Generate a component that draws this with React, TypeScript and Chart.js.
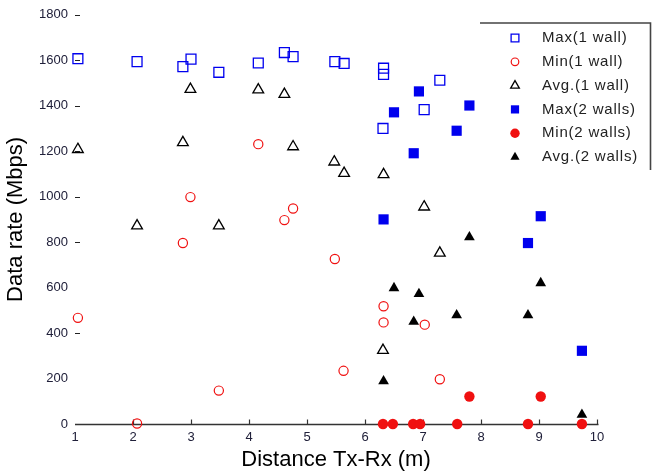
import { useEffect, useRef } from "react";
import { Chart, registerables } from "chart.js";
import { drawPoint } from "chart.js/helpers";

Chart.register(...registerables);

// Axis ranges and tick spacing
const xMin = 1;
const xMax = 10;
const xStep = 1;
const yMin = 0;
const yMax = 1800;
const yStep = 200;
// y ticks that carry a short inward dash
const yDashTicks = [1800, 1600, 1400, 1200, 1000, 800, 400];

// Max data rate, one wall (m, Mbps)
const max1X = [1.05, 2.07, 2.86, 3.0, 3.48, 4.16, 4.61, 4.76, 5.48, 5.64, 6.32, 6.32, 6.31, 7.02, 7.29];
const max1Y = [1607, 1594, 1572, 1605, 1547, 1588, 1634, 1616, 1594, 1586, 1565, 1538, 1300, 1383, 1512];

// Min data rate, one wall
const min1X = [1.05, 2.07, 2.86, 2.99, 3.48, 4.16, 4.61, 4.76, 5.48, 5.63, 6.32, 6.32, 7.03, 7.29];
const min1Y = [467, 2, 796, 998, 147, 1231, 897, 948, 726, 234, 518, 447, 437, 197];

// Average data rate, one wall
const avg1X = [1.05, 2.07, 2.86, 2.99, 3.48, 4.16, 4.61, 4.76, 5.47, 5.64, 6.32, 6.31, 7.02, 7.29];
const avg1Y = [1208, 872, 1238, 1472, 872, 1470, 1450, 1220, 1153, 1103, 1097, 324, 955, 752];

// Max data rate, two walls
const max2X = [6.32, 6.5, 6.84, 6.93, 7.58, 7.8, 8.81, 9.03, 9.74];
const max2Y = [900, 1371, 1191, 1463, 1290, 1401, 796, 914, 322];

// Min data rate, two walls
const min2X = [6.31, 6.48, 6.83, 6.95, 7.59, 7.8, 8.81, 9.03, 9.74];
const min2Y = [0, 0, 0, 0, 0, 121, 0, 121, 0];

// Average data rate, two walls
const avg2X = [6.32, 6.5, 6.84, 6.93, 7.58, 7.8, 8.81, 9.03, 9.74];
const avg2Y = [188, 598, 450, 572, 479, 822, 479, 620, 41];

const seriesLabels = [
  "Max(1 wall)",
  "Min(1 wall)",
  "Avg.(1 wall)",
  "Max(2 walls)",
  "Min(2 walls)",
  "Avg.(2 walls)",
];

const BLUE = "#0000ee";
const RED = "#f01010";
const BLACK = "#000000";
const TICK_COLOR = "#20203a";
const FONT_FAMILY = "Arial, 'Liberation Sans', sans-serif";

const toPoints = (xs: number[], ys: number[]) => xs.map((x, i) => ({ x, y: ys[i] }));

type MarkerStyle = {
  pointStyle: string;
  radius: number;
  legendRadius: number;
  fill: string;
  stroke: string;
  borderWidth: number;
};

const markers: MarkerStyle[] = [
  { pointStyle: "rect", radius: 7, legendRadius: 5.5, fill: "rgba(0,0,0,0)", stroke: BLUE, borderWidth: 1.3 },
  { pointStyle: "circle", radius: 4.6, legendRadius: 3.8, fill: "rgba(0,0,0,0)", stroke: RED, borderWidth: 1.2 },
  { pointStyle: "triangle", radius: 6.2, legendRadius: 5, fill: "rgba(0,0,0,0)", stroke: BLACK, borderWidth: 1.3 },
  { pointStyle: "rect", radius: 7.2, legendRadius: 5.8, fill: BLUE, stroke: BLUE, borderWidth: 0 },
  { pointStyle: "circle", radius: 5.2, legendRadius: 4.7, fill: RED, stroke: RED, borderWidth: 0 },
  { pointStyle: "triangle", radius: 6.2, legendRadius: 5.3, fill: BLACK, stroke: BLACK, borderWidth: 0 },
];

const seriesData = [
  toPoints(max1X, max1Y),
  toPoints(min1X, min1Y),
  toPoints(avg1X, avg1Y),
  toPoints(max2X, max2Y),
  toPoints(min2X, min2Y),
  toPoints(avg2X, avg2Y),
];

// Bottom axis line with inward ticks, and short dashes beside the y labels
const axisMarksPlugin = {
  id: "axisMarks",
  beforeDatasetsDraw(chart: any) {
    const { ctx } = chart;
    const x = chart.scales.x;
    const y = chart.scales.y;
    const y0 = Math.round(y.getPixelForValue(yMin)) + 0.5;
    ctx.save();
    ctx.strokeStyle = "#333333";
    ctx.lineWidth = 1.6;
    ctx.beginPath();
    ctx.moveTo(x.getPixelForValue(xMin), y0);
    ctx.lineTo(x.getPixelForValue(xMax) + 1.5, y0);
    ctx.stroke();
    ctx.lineWidth = 1.2;
    for (let v = xMin + xStep; v <= xMax; v += xStep) {
      const px = Math.round(x.getPixelForValue(v)) + 0.5;
      ctx.beginPath();
      ctx.moveTo(px, y0);
      ctx.lineTo(px, y0 - 5);
      ctx.stroke();
    }
    ctx.strokeStyle = "#222222";
    ctx.lineWidth = 1;
    const left = chart.chartArea.left;
    for (const v of yDashTicks) {
      const py = Math.round(y.getPixelForValue(v)) + 0.5;
      ctx.beginPath();
      ctx.moveTo(left, py);
      ctx.lineTo(left + 5, py);
      ctx.stroke();
    }
    ctx.restore();
  },
};

// Legend box in the upper right corner
const legendPlugin = {
  id: "cornerLegend",
  afterDraw(chart: any) {
    const { ctx } = chart;
    ctx.save();
    ctx.strokeStyle = "#444444";
    ctx.lineWidth = 1.6;
    ctx.beginPath();
    ctx.moveTo(480, 23);
    ctx.lineTo(650.5, 23);
    ctx.lineTo(650.5, 170);
    ctx.stroke();

    const markerX = 515;
    const textX = 542;
    const rowTop = 38;
    const rowGap = 23.8;
    ctx.font = `15px ${FONT_FAMILY}`;
    (ctx as any).letterSpacing = "0.8px";
    ctx.textBaseline = "middle";
    ctx.textAlign = "left";
    seriesLabels.forEach((label, i) => {
      const m = markers[i];
      const cy = rowTop + i * rowGap;
      ctx.fillStyle = m.fill;
      ctx.strokeStyle = m.stroke;
      ctx.lineWidth = m.borderWidth;
      drawPoint(ctx, { pointStyle: m.pointStyle as any, rotation: 0, radius: m.legendRadius, borderWidth: m.borderWidth }, markerX, cy);
      ctx.fillStyle = "#222222";
      ctx.fillText(label, textX, cy);
    });
    ctx.restore();
  },
};

export default function App() {
  const canvasRef = useRef<HTMLCanvasElement | null>(null);

  useEffect(() => {
    const canvas = canvasRef.current;
    if (!canvas) return;
    const chart = new Chart(canvas, {
      type: "scatter",
      data: {
        datasets: seriesLabels.map((label, i) => ({
          label,
          data: seriesData[i],
          showLine: false,
          pointStyle: markers[i].pointStyle as any,
          pointRadius: markers[i].radius,
          pointHoverRadius: markers[i].radius,
          pointBorderWidth: markers[i].borderWidth,
          backgroundColor: markers[i].fill,
          borderColor: markers[i].stroke,
          clip: false as any,
        })),
      },
      options: {
        responsive: false,
        animation: false,
        devicePixelRatio: 1,
        events: [],
        layout: { padding: { top: 13, right: 58, left: 0, bottom: 0 } },
        plugins: {
          legend: { display: false },
          tooltip: { enabled: false },
        },
        scales: {
          x: {
            type: "linear",
            min: xMin,
            max: xMax,
            afterFit: (s: any) => {
              s.height = 47;
            },
            grid: { display: false, drawTicks: false },
            border: { display: false },
            ticks: {
              stepSize: xStep,
              padding: 6,
              color: TICK_COLOR,
              font: { family: FONT_FAMILY, size: 13 },
              callback: (v: any) => String(v),
            },
            title: {
              display: true,
              text: "Distance Tx-Rx (m)",
              color: "#000000",
              font: { family: FONT_FAMILY, size: 22, lineHeight: 1 },
              padding: { top: 0, bottom: 0 },
            },
          },
          y: {
            type: "linear",
            min: yMin,
            max: yMax,
            afterFit: (s: any) => {
              s.width = 75;
            },
            grid: { display: false, drawTicks: false },
            border: { display: false },
            ticks: {
              stepSize: yStep,
              padding: 7,
              color: TICK_COLOR,
              font: { family: FONT_FAMILY, size: 13 },
              callback: (v: any) => String(v),
            },
            title: {
              display: true,
              text: "Data rate (Mbps)",
              color: "#000000",
              font: { family: FONT_FAMILY, size: 22, lineHeight: 1 },
              padding: { top: 5, bottom: 0 },
            },
          },
        },
      },
      plugins: [axisMarksPlugin, legendPlugin],
    });
    return () => chart.destroy();
  }, []);

  return (
    <div style={{ position: "fixed", left: 0, top: 0, width: 655, height: 471, background: "#ffffff" }}>
      <canvas ref={canvasRef} width={655} height={471} style={{ display: "block" }} />
    </div>
  );
}
